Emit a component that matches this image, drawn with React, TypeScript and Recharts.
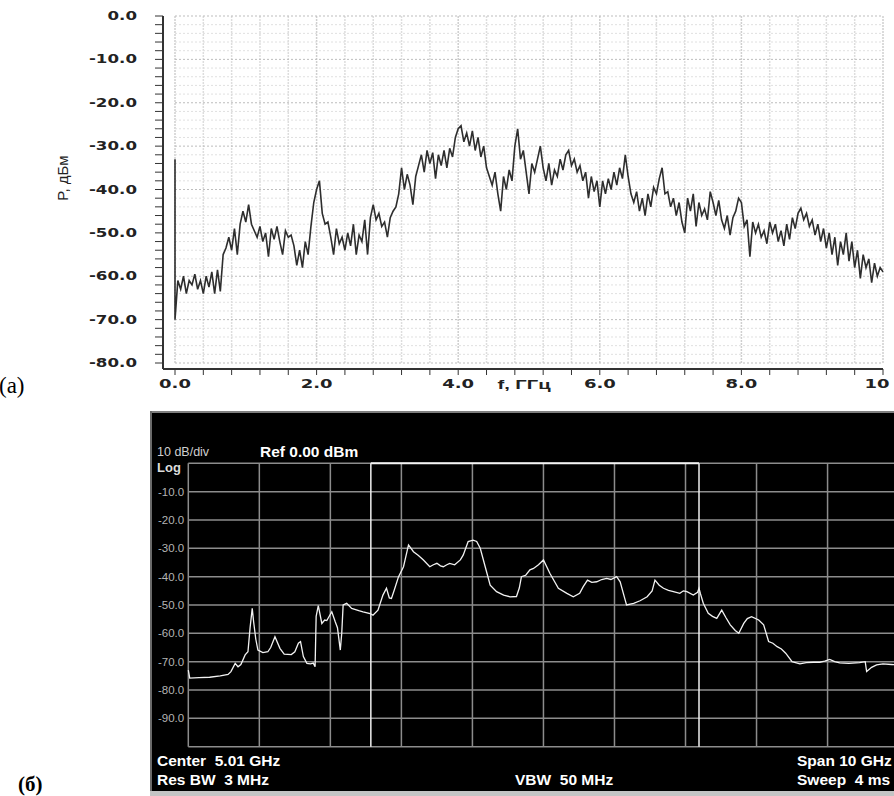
import React from "react";
import { LineChart, Line, XAxis, YAxis, ReferenceLine } from "recharts";

// ---------- Chart (a): measured spectrum, P (dBm) vs f (GHz) ----------
const STEP_A = 0.04; // GHz between trace samples
const spikeA = [-33, -70]; // values at f = 0
const powerA = [
  -61, -63, -60, -64, -61, -62, -59.5, -63, -61, -64,
  -60, -62.5, -59, -64, -58.5, -63.5, -55, -53.5, -51, -54,
  -49, -55, -48, -45, -47.5, -43.5, -48, -49.5, -51, -48.5,
  -52, -50, -55.5, -49, -51.5, -48.5, -52, -55, -49.5, -51,
  -50.5, -53, -57.5, -54, -58, -52, -55, -48.5, -43, -40,
  -38, -45.5, -48, -47.5, -51, -55, -49, -52.5, -51, -54,
  -50, -53, -48, -55, -50.5, -52, -47, -55, -46.5, -43.5,
  -47, -45.5, -48.5, -47.5, -51, -46.5, -45, -44, -41, -35,
  -40, -36.5, -39, -43.5, -37, -34.5, -32, -36, -31, -34,
  -31.5, -37.5, -32, -34.5, -31, -35, -30.5, -32.5, -28, -26,
  -25.3, -29, -27, -30, -26.5, -31, -28, -32.5, -30, -35,
  -37, -39, -36, -41, -45, -37, -40, -35.5, -38, -30,
  -26, -33, -31, -36, -41, -34, -36, -33, -30, -35,
  -38, -34, -39, -35.5, -37, -33, -35.5, -32, -31, -34.5,
  -33, -36, -34.5, -38, -36, -42, -37, -40.5, -38, -44,
  -38, -41, -37.5, -40, -36, -39, -35, -37.5, -32, -37,
  -41, -43, -40.5, -45, -42, -46, -41, -44, -39.5, -41,
  -37.5, -35, -41, -40.5, -44, -42, -46, -43, -47.5, -50,
  -42, -45, -41, -48.5, -43, -46, -44.5, -47, -40.5, -43,
  -46, -42.5, -47, -49, -46, -50.5, -46.5, -45, -42, -43,
  -48.5, -47, -55.5, -47.5, -50, -48, -51, -49.5, -52.5, -47.5,
  -50, -48, -52, -49.5, -53, -48, -51.5, -46.5, -49, -45.5,
  -44.3, -47, -45.5, -48.5, -47, -50.5, -48, -52, -49, -53.5,
  -50, -55, -51, -57.5, -52, -55, -50, -56.5, -52, -58,
  -54, -60.5, -55, -58, -56, -61.5, -57, -60, -58, -59,
];
const xTicksA = [0, 0.4, 0.8, 1.2, 1.6, 2, 2.4, 2.8, 3.2, 3.6, 4, 4.4, 4.8, 5.2, 5.6, 6, 6.4, 6.8, 7.2, 7.6, 8, 8.4, 8.8, 9.2, 9.6, 10];
const xLabelValuesA = [0, 2, 4, 6, 8, 10];
const xLabelTextsA = ["0.0", "2.0", "4.0", "6.0", "8.0", "10"];
const yTicksA = [
  -80, -78, -76, -74, -72, -70, -68, -66, -64, -62, -60, -58, -56, -54, -52, -50, -48, -46, -44, -42,
  -40, -38, -36, -34, -32, -30, -28, -26, -24, -22, -20, -18, -16, -14, -12, -10, -8, -6, -4, -2, 0,
];
const yLabelValuesA = [-80, -70, -60, -50, -40, -30, -20, -10, 0];

// ---------- Chart (b): spectrum analyzer trace ----------
const freqB = [
  0, 0.02, 0.15, 0.3, 0.45, 0.56, 0.6, 0.66, 0.7, 0.74, 0.8, 0.84, 0.87, 0.9, 0.92, 0.95, 0.98,
  1.05, 1.12, 1.16, 1.22, 1.29, 1.35, 1.45, 1.5, 1.55, 1.58, 1.62, 1.67, 1.72, 1.76, 1.785, 1.8,
  1.83, 1.88, 1.92, 1.95, 2.02, 2.07, 2.1, 2.14, 2.16, 2.18, 2.23, 2.3, 2.4, 2.46, 2.56, 2.6, 2.67,
  2.74, 2.79, 2.83, 2.86, 2.9, 2.96, 3.03, 3.1, 3.17, 3.24, 3.31, 3.4, 3.45, 3.5, 3.55, 3.59, 3.64,
  3.68, 3.75, 3.83, 3.87, 3.94, 4.01, 4.06, 4.11, 4.18, 4.25, 4.34, 4.44, 4.53, 4.62, 4.66, 4.69,
  4.75, 4.81, 4.86, 4.93, 5.0, 5.09, 5.21, 5.33, 5.42, 5.51, 5.56, 5.62, 5.68, 5.75, 5.82, 5.89,
  5.95, 6.03, 6.08, 6.15, 6.17, 6.27, 6.36, 6.46, 6.53, 6.57, 6.63, 6.69, 6.76, 6.83, 6.92, 6.97,
  7.02, 7.11, 7.17, 7.19, 7.21, 7.25, 7.32, 7.38, 7.44, 7.51, 7.57, 7.63, 7.7, 7.75, 7.82, 7.87,
  7.93, 8.03, 8.1, 8.17, 8.23, 8.29, 8.35, 8.41, 8.5, 8.61, 8.7, 8.8, 8.89, 8.96, 9.03, 9.1, 9.17,
  9.3, 9.45, 9.53, 9.55, 9.62, 9.69, 9.78, 9.9, 10,
];
const powerB = [
  -73, -75.8, -75.6, -75.5, -75, -74.5, -73.5, -70.6, -71.8, -71, -67.6, -66.5, -58, -51.2, -56, -62, -65.9,
  -66.8, -66.5, -65, -61.2, -65.3, -67.3, -67.5, -66.5, -63.5, -62.9, -68.2, -70.6, -70.8, -70.5, -71.8, -54,
  -50.2, -56.5, -55.3, -55.5, -52.4, -56, -58, -65.9, -60, -50, -49.4, -51.2, -52, -52.4, -53, -53.6, -51.8,
  -46.5, -44.1, -47.5, -47.7, -44.7, -40, -36.5, -28.8, -31.2, -32.5, -34.1, -36.5, -35.8, -35.3, -36.2, -36.5, -35.8,
  -35.3, -35.8, -34.1, -32.4, -27.6, -27.1, -27.6, -30, -36.5, -43, -45.3, -46.5, -47.1, -47, -44, -40,
  -39.5, -37.6, -37.1, -35.8, -34.1, -38.8, -44.1, -45.9, -47.1, -45.9, -43.5, -41.2, -42, -41.8, -41, -40.6,
  -41, -40, -41.8, -48.2, -50, -49.4, -48.5, -47.1, -45, -41.2, -43, -44.1, -44.8, -45.3, -45.9, -45,
  -45.3, -46.5, -45.5, -44.1, -46, -49.4, -52.9, -54, -54.7, -51.8, -54.5, -57, -59, -60, -56.5, -54.8,
  -54.1, -55.3, -57, -62.9, -63.5, -64.7, -65.5, -67, -70, -70.8, -70.3, -70.2, -70.2, -69.8, -69.2, -70, -70.4,
  -70.6, -70.3, -70, -73.5, -72, -71.1, -70.8, -71, -71.2,
];
const xTicksB = [0, 1, 2, 3, 4, 5, 6, 7, 8, 9, 10];
const yTicksB = [-100, -90, -80, -70, -60, -50, -40, -30, -20, -10, 0];
const yLabelValuesB = [-90, -80, -70, -60, -50, -40, -30, -20, -10];
const markersB = [2.57, 7.19];

const dataA = [
  ...spikeA.map((p) => ({ f: 0, p })),
  ...powerA.map((p, i) => ({ f: Number(((i + 1) * STEP_A).toFixed(2)), p })),
];
const dataB = freqB.map((f, i) => ({ f, p: powerB[i] }));

const tickFontA = "'DejaVu Sans', Verdana, sans-serif";
const sansB = "'Liberation Sans', Arial, sans-serif";

const renderYTickA = (props: any) => {
  const { x, y, payload } = props;
  const v = payload.value;
  if (!yLabelValuesA.includes(v)) return <g />;
  return (
    <text
      transform={`translate(${x},${y}) scale(1.45,1)`}
      textAnchor="end"
      dominantBaseline="central"
      fontFamily={tickFontA}
      fontWeight="bold"
      fontSize={11.5}
      fill="#222"
    >
      {v.toFixed(1)}
    </text>
  );
};

const renderXTickA = (props: any) => {
  const { x, y, payload } = props;
  const v = payload.value;
  const idx = xLabelValuesA.findIndex((l) => Math.abs(l - v) < 1e-6);
  if (idx < 0) return <g />;
  const label = xLabelTextsA[idx];
  const shift = idx === xLabelValuesA.length - 1 ? -6 : 0;
  return (
    <text
      transform={`translate(${x + shift},${y}) scale(1.5,1)`}
      textAnchor="middle"
      dominantBaseline="central"
      fontFamily={tickFontA}
      fontWeight="bold"
      fontSize={12}
      fill="#222"
    >
      {label}
    </text>
  );
};

const renderYTickB = (props: any) => {
  const { y, payload } = props;
  const v = payload.value;
  if (!yLabelValuesB.includes(v)) return <g />;
  return (
    <text x={8} y={y} textAnchor="start" dominantBaseline="central" fontFamily={sansB} fontSize={11.5} fill="#b4b4b4">
      {v.toFixed(1)}
    </text>
  );
};

const txt = (s: string, left: number, top: number, size: number, opts: any = {}) => (
  <div
    style={{
      position: "absolute",
      left,
      top,
      fontSize: size,
      lineHeight: 1,
      whiteSpace: "pre",
      fontFamily: sansB,
      color: "#fff",
      ...opts,
    }}
  >
    {s}
  </div>
);

export default function App() {
  return (
    <div style={{ position: "absolute", left: 0, top: 0, width: 894, height: 796, overflow: "hidden", background: "#fff" }}>
      {/* Chart (a) */}
      <div style={{ position: "absolute", left: 0, top: 0 }}>
        <LineChart width={894} height={400} data={dataA} margin={{ top: 16, right: 11, bottom: 6, left: 103 }}>
          <XAxis
            type="number"
            dataKey="f"
            domain={[0, 10]}
            ticks={xTicksA}
            interval={0}
            height={25}
            padding={{ left: 12, right: 0 }}
            tickSize={6}
            tickMargin={9}
            axisLine={{ stroke: "#333", strokeWidth: 2 }}
            tickLine={{ stroke: "#333" }}
            tick={renderXTickA}
          />
          <YAxis
            type="number"
            domain={[-80, 0]}
            ticks={yTicksA}
            interval={0}
            width={60}
            padding={{ top: 0, bottom: 6 }}
            tickSize={8}
            tickMargin={18}
            axisLine={{ stroke: "#333", strokeWidth: 2 }}
            tickLine={{ stroke: "#333" }}
            tick={renderYTickA}
          />
          {xTicksA.map((v) => (
            <ReferenceLine
              key={"vx" + v}
              segment={[{ x: v, y: -80 }, { x: v, y: 0 }]}
              stroke={v % 2 === 0 ? "#cfcfcf" : "#dddddd"}
              strokeWidth={1.5}
              strokeDasharray="2 1"
            />
          ))}
          {yTicksA.map((v) => (
            <ReferenceLine
              key={"hy" + v}
              segment={[{ x: 0, y: v }, { x: 10, y: v }]}
              stroke={v % 10 === 0 ? "#bdbdbd" : "#e0e0e0"}
              strokeWidth={1}
              strokeDasharray="2 2"
            />
          ))}
          <Line type="linear" dataKey="p" stroke="#2e2e2e" strokeWidth={1.6} dot={false} isAnimationActive={false} />
        </LineChart>
      </div>
      <div
        style={{
          position: "absolute",
          left: 62,
          top: 178,
          transform: "translate(-50%,-50%) rotate(-90deg)",
          fontFamily: sansB,
          fontSize: 15,
          whiteSpace: "nowrap",
          color: "#222",
        }}
      >
        P, дБм
      </div>
      <div
        style={{
          position: "absolute",
          left: 524,
          top: 384,
          transform: "translate(-50%,-50%) scale(1.55,1)",
          fontFamily: sansB,
          fontWeight: "bold",
          fontSize: 13,
          whiteSpace: "nowrap",
          color: "#222",
        }}
      >
        f, ГГц
      </div>
      <div style={{ position: "absolute", left: -1, top: 373, fontFamily: "'Liberation Serif', 'Times New Roman', serif", fontSize: 23, color: "#000" }}>
        (a)
      </div>

      {/* Chart (b) */}
      <div style={{ position: "absolute", left: 150, top: 411, width: 760, height: 385, background: "#000" }}>
        <div style={{ position: "absolute", left: 0, top: 0, width: 760, height: 2, background: "#808080" }} />
        <div style={{ position: "absolute", left: 0, top: 0, width: 2, height: 385, background: "#6a6a6a" }} />
        <div style={{ position: "absolute", left: 0, top: 380, width: 760, height: 5, background: "#c4c4c4" }} />
        <div style={{ position: "absolute", left: 0, top: 0 }}>
          <LineChart width={760} height={385} data={dataB} margin={{ top: 52.3, right: 11.4, bottom: 49.3, left: 8.3 }}>
            <XAxis type="number" dataKey="f" domain={[0, 10]} ticks={xTicksB} hide />
            <YAxis
              type="number"
              domain={[-100, 0]}
              ticks={yTicksB}
              interval={0}
              width={30}
              axisLine={false}
              tickLine={false}
              tick={renderYTickB}
            />
            {xTicksB.map((v) => (
              <ReferenceLine key={"bx" + v} x={v} stroke="#8c8c8c" strokeWidth={1.5} />
            ))}
            {yTicksB.map((v) => (
              <ReferenceLine key={"by" + v} y={v} stroke="#8c8c8c" strokeWidth={1.5} />
            ))}
            <ReferenceLine segment={[{ x: markersB[0], y: 0 }, { x: markersB[1], y: 0 }]} stroke="#f4f4f4" strokeWidth={2} />
            {markersB.map((v) => (
              <ReferenceLine key={"m" + v} x={v} stroke="#f0f0f0" strokeWidth={1.5} />
            ))}
            <Line type="linear" dataKey="p" stroke="#f2f2f2" strokeWidth={1.3} dot={false} isAnimationActive={false} />
          </LineChart>
        </div>
      </div>
      {txt("10 dB/div", 157, 446, 12.5, { color: "#cfcfcf" })}
      {txt("Ref 0.00 dBm", 260, 444, 15.5, { fontWeight: "bold" })}
      {txt("Log", 157, 461, 13, { color: "#dcdcdc", fontWeight: "bold" })}
      {txt("Center  5.01 GHz", 157, 753, 15.5, { fontWeight: "bold" })}
      {txt("Res BW  3 MHz", 157, 772, 15.5, { fontWeight: "bold" })}
      {txt("VBW  50 MHz", 515, 772, 15.5, { fontWeight: "bold" })}
      {txt("Span 10 GHz", 797, 753, 15.5, { fontWeight: "bold" })}
      {txt("Sweep  4 ms", 797, 772, 15.5, { fontWeight: "bold" })}
      <div
        style={{
          position: "absolute",
          left: 18,
          top: 772,
          fontFamily: "'Liberation Serif', 'Times New Roman', serif",
          fontWeight: "bold",
          fontSize: 21,
          color: "#000",
        }}
      >
        (б)
      </div>
    </div>
  );
}
